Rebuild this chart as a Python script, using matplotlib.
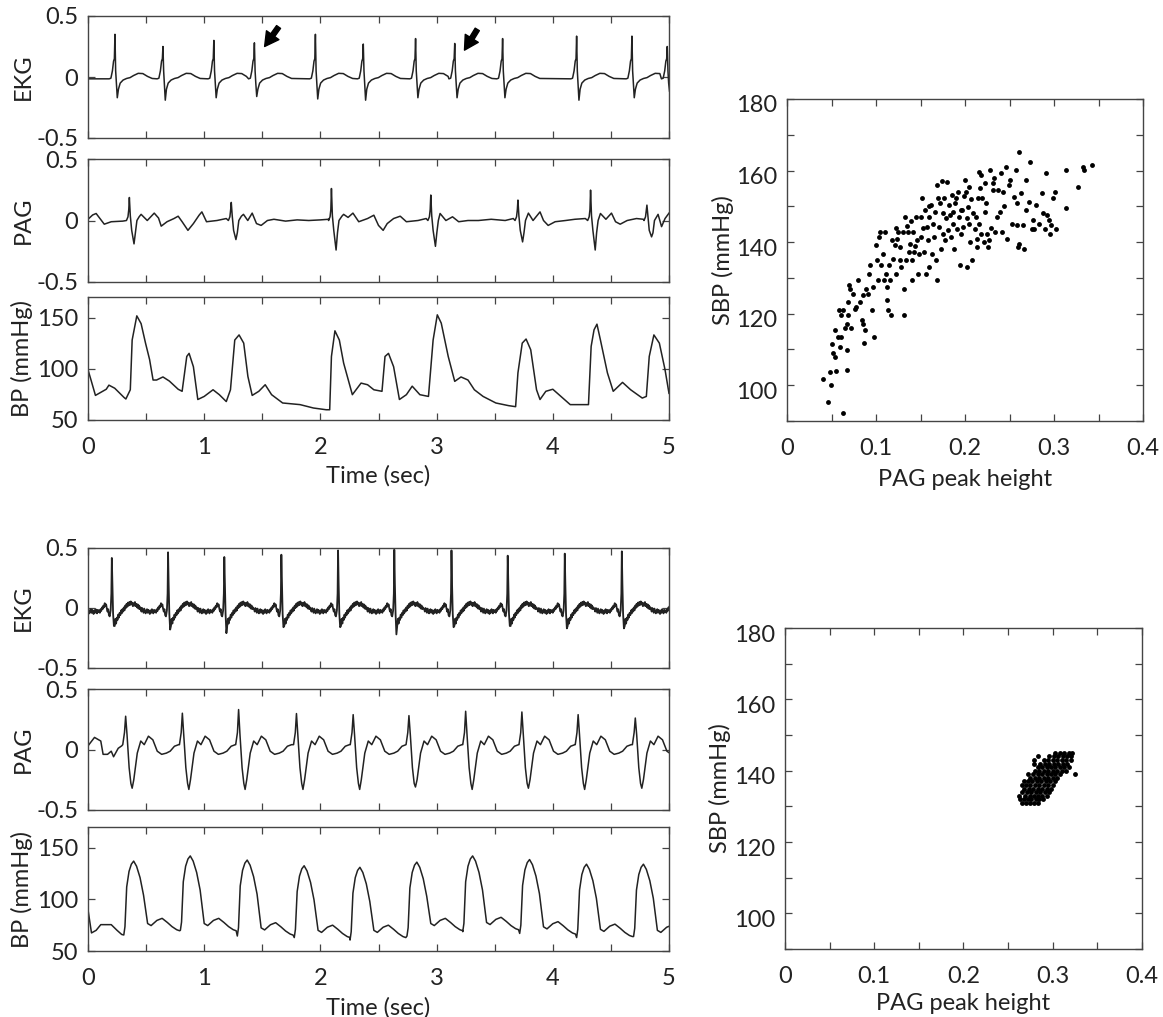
import numpy as np
import matplotlib
matplotlib.use("Agg")
import matplotlib.pyplot as plt
import matplotlib.transforms as mtransforms

plt.rcParams['font.family'] = ['Lato', 'DejaVu Sans']
FS = 17
INK = '#222222'

# ---------------- top recording (irregular rhythm) ----------------
# EKG: R-peak times (s), R heights, S depths
EKG1_T = [0.232, 0.645, 1.083, 1.432, 1.957, 2.369, 2.819, 3.156, 3.568, 4.205, 4.681, 4.985]
EKG1_R = [0.35, 0.25, 0.30, 0.28, 0.35, 0.27, 0.315, 0.275, 0.315, 0.335, 0.335, 0.25]
EKG1_S = [-0.17, -0.19, -0.17, -0.16, -0.18, -0.19, -0.17, -0.17, -0.17, -0.19, -0.17, -0.12]
# beat shape, offsets from the R peak
EKG1_OFF = [-0.05, -0.035, -0.022, -0.012, -0.005, 0.0, 0.006, 0.012, 0.02, 0.03, 0.045,
            0.07, 0.1, 0.13, 0.16, 0.2, 0.24, 0.28, 0.32]
EKG1_SHAPE = [-0.015, -0.01, 0.05, 0.13, 0.15, 'R', 0.05, -0.05, 'S', -0.1, -0.05,
              -0.025, -0.012, -0.005, 0.012, 0.03, 0.028, 0.005, -0.012]

# PAG: spike times, up and down deflections
PAG1_T = [0.356, 1.233, 2.095, 2.95, 3.70, 4.325, 4.81]
PAG1_UP = [0.187, 0.147, 0.26, 0.207, 0.166, 0.247, 0.125]
PAG1_DN = [-0.19, -0.155, -0.24, -0.21, -0.174, -0.24, -0.133]
PAG1_OFF = [-0.025, -0.012, -0.005, 0.0, 0.008, 0.02, 0.04, 0.052, 0.065]
PAG1_SHAPE = [0.0, 0.03, 0.09, 'R', 0.04, -0.08, 'S', -0.1, 0.0]
# small deflections between the spikes
PAG1_WT = [0.0, 0.04, 0.07, 0.1, 0.14, 0.2, 0.3, 0.44, 0.457, 0.51, 0.57, 0.607, 0.63, 0.68, 0.74,
           0.776, 0.81, 0.86, 0.907, 0.956, 0.98, 1.02, 1.11, 1.19, 1.32, 1.338, 1.375, 1.413, 1.45,
           1.49, 1.544, 1.6, 1.7, 1.8, 1.9, 2.0, 2.07, 2.185, 2.2, 2.238, 2.28, 2.33, 2.406, 2.46,
           2.5, 2.54, 2.575, 2.63, 2.687, 2.74, 2.84, 2.91, 3.03, 3.08, 3.137, 3.19, 3.27, 3.36,
           3.47, 3.59, 3.66, 3.79, 3.83, 3.89, 3.92, 3.96, 4.02, 4.11, 4.19, 4.28, 4.41, 4.457,
           4.505, 4.54, 4.58, 4.64, 4.72, 4.78, 4.906, 4.936, 4.966, 5.0]
PAG1_WV = [0.01, 0.045, 0.057, 0.02, -0.03, -0.01, -0.005, 0.03, 0.05, 0.0, 0.06, 0.02, -0.046, -0.01, 0.016,
           0.035, -0.01, -0.08, -0.025, 0.043, 0.07, -0.01, 0.0, 0.016, 0.035, 0.05, 0.0, 0.06, -0.025,
           -0.04, 0.0, 0.01, -0.005, 0.005, 0.0, 0.005, 0.01, 0.035, 0.05, 0.025, 0.06, -0.01, 0.016, 0.043,
           -0.04, -0.08, -0.025, 0.016, 0.035, -0.01, 0.0, 0.016, 0.057, 0.0, 0.03, -0.01, 0.0, 0.0,
           0.01, 0.0, 0.016, 0.06, 0.0, 0.07, 0.0, -0.04, -0.01, 0.0, 0.01, 0.016, 0.057, 0.01,
           0.06, -0.01, -0.03, 0.0, 0.016, 0.01, 0.05, -0.05, 0.016, 0.06]

# BP trace vertices
BP1_T = [0.0, 0.026, 0.064, 0.157, 0.18, 0.23, 0.31, 0.326, 0.364, 0.38, 0.42, 0.457, 0.495, 0.53, 0.56,
         0.59, 0.645, 0.70, 0.776, 0.81, 0.85, 0.87, 0.907, 0.945, 1.0, 1.076, 1.13, 1.19, 1.226, 1.263,
         1.30, 1.34, 1.376, 1.413, 1.47, 1.525, 1.58, 1.675, 1.825, 1.94, 2.05, 2.08, 2.095, 2.125, 2.163,
         2.2, 2.275, 2.35, 2.406, 2.46, 2.53, 2.556, 2.586, 2.63, 2.68, 2.74, 2.79, 2.856, 2.93, 2.97,
         3.006, 3.04, 3.1, 3.156, 3.21, 3.27, 3.325, 3.4, 3.51, 3.62, 3.68, 3.70, 3.737, 3.77, 3.81,
         3.86, 3.89, 3.94, 4.0, 4.07, 4.15, 4.26, 4.307, 4.33, 4.355, 4.38, 4.41, 4.47, 4.52, 4.6,
         4.67, 4.77, 4.805, 4.83, 4.87, 4.917, 4.966, 5.0]
BP1_V = [99, 89, 74, 80, 84, 81, 72, 70.5, 79.5, 128, 151.6, 144, 125, 109, 89,
         89, 92, 88, 80, 78, 112, 115, 102, 70, 73, 79.5, 74.7, 68, 79.5, 128,
         133, 125, 92.5, 74, 78, 84.4, 74.7, 66.6, 65, 61.7, 60, 60, 112, 137, 128,
         105.5, 74.7, 86, 84.4, 79.5, 78, 112, 115, 102, 70, 74.7, 83, 74.7, 73, 128,
         152.6, 144.5, 112, 87.7, 92, 89, 79.5, 73, 66.6, 64, 63, 96, 125, 129, 118.5,
         79.5, 70, 78, 80, 73, 65, 65, 65, 121.8, 138, 143.5, 128, 96, 78, 86.7,
         79.5, 71.4, 73, 112, 133, 125, 99, 76]

# SBP vs PAG peak height, top recording
TOP_PAG = [0.040, 0.046, 0.049, 0.048, 0.050, 0.052, 0.054, 0.055, 0.054, 0.057,
           0.061, 0.059, 0.058, 0.063, 0.061, 0.065, 0.063, 0.067, 0.067, 0.067,
           0.069, 0.070, 0.071, 0.069, 0.072, 0.074, 0.076, 0.078, 0.080, 0.082,
           0.084, 0.085, 0.085, 0.087, 0.088, 0.089, 0.091, 0.092, 0.093, 0.095,
           0.097, 0.098, 0.100, 0.101, 0.102, 0.103, 0.104, 0.106, 0.108, 0.109,
           0.110, 0.111, 0.112, 0.112, 0.113, 0.115, 0.116, 0.117, 0.119, 0.121,
           0.123, 0.124, 0.125, 0.127, 0.127, 0.128, 0.130, 0.131, 0.132, 0.133,
           0.134, 0.136, 0.137, 0.138, 0.140, 0.141, 0.142, 0.143, 0.145, 0.146,
           0.147, 0.148, 0.150, 0.151, 0.152, 0.154, 0.155, 0.156, 0.157, 0.158,
           0.160, 0.160, 0.162, 0.163, 0.165, 0.166, 0.167, 0.168, 0.169, 0.170,
           0.171, 0.172, 0.173, 0.175, 0.175, 0.176, 0.177, 0.179, 0.180, 0.181,
           0.182, 0.184, 0.185, 0.186, 0.187, 0.188, 0.190, 0.191, 0.192, 0.193,
           0.194, 0.196, 0.197, 0.198, 0.200, 0.201, 0.202, 0.202, 0.203, 0.205,
           0.206, 0.208, 0.209, 0.211, 0.213, 0.215, 0.216, 0.216, 0.218, 0.218,
           0.219, 0.221, 0.222, 0.223, 0.225, 0.226, 0.227, 0.228, 0.231, 0.232,
           0.234, 0.237, 0.239, 0.241, 0.242, 0.243, 0.246, 0.247, 0.249, 0.251,
           0.257, 0.258, 0.258, 0.260, 0.261, 0.261, 0.263, 0.265, 0.266, 0.269,
           0.272, 0.273, 0.275, 0.276, 0.278, 0.280, 0.286, 0.288, 0.290, 0.291,
           0.294, 0.295, 0.297, 0.299, 0.301, 0.302, 0.313, 0.314, 0.327, 0.333,
           0.334, 0.343, 0.118, 0.122, 0.135, 0.139, 0.144, 0.153, 0.159, 0.164,
           0.174, 0.183, 0.189, 0.195, 0.199, 0.204, 0.207, 0.212, 0.214, 0.217,
           0.224, 0.229, 0.233, 0.236, 0.244, 0.253, 0.255, 0.268, 0.283, 0.292]
TOP_SBP = [101.6, 95.3, 100, 103.7, 111.6, 109, 107.9, 104, 115.5, 113.5,
           113.5, 110.7, 121, 121, 119.6, 116, 92.2, 109.8, 104.2, 117.2,
           123.3, 128, 127, 119.6, 116, 125.6, 121.4, 122, 129.3, 123.3,
           118.2, 125.1, 117.2, 111.8, 115.5, 127, 125.6, 131.2, 133.5, 121,
           127.5, 113.5, 139.1, 135, 129.3, 141.5, 142.9, 133.5, 136.8, 129.3,
           142.9, 131.2, 127.5, 123.7, 121, 133.5, 129.3, 119.6, 135.4, 139.1,
           131.2, 141, 142.9, 135, 138.7, 133, 142.9, 127, 119.6, 147,
           135, 142.9, 137.3, 139.6, 135, 129.3, 142.9, 137.3, 147, 140.5,
           131.2, 136.8, 147, 141.5, 152.2, 137.3, 148.9, 131.2, 144.3, 140.5,
           147, 133, 150.3, 136.8, 141.5, 148.5, 135, 155.9, 129.3, 152.2,
           144.3, 150.8, 138.2, 148, 142.4, 152.2, 140.5, 146.6, 156.9, 143.3,
           150.3, 141.5, 153.1, 145.2, 148.5, 138.2, 152.2, 143.8, 154, 147,
           133.5, 142.4, 148.9, 144.3, 157.3, 154, 133, 146.6, 149.9, 145.2,
           140.1, 135, 148, 143.8, 138.7, 152.2, 145.2, 159.7, 142.4, 158.7,
           152.2, 140.1, 156.4, 148.5, 142.4, 138.7, 140.5, 160.1, 154.5, 156.4,
           142.9, 154.5, 148.5, 159.2, 142.9, 154, 161, 141, 155.9, 157.3,
           160.1, 150.8, 144.7, 138.7, 139.6, 165.3, 153.6, 144.7, 138.2, 157.3,
           151.3, 162.5, 143.8, 146.1, 143.8, 150.3, 153.6, 148, 143.8, 159.2,
           146.1, 142.4, 144.7, 152.2, 154, 143.8, 149.4, 160.1, 155.5, 161,
           160.1, 161.5, 140.5, 144, 144.5, 146, 139, 144, 150, 145,
           157, 147.5, 151, 149, 153, 155.5, 152, 147, 141, 155,
           151, 144, 158, 147, 150, 145, 152.5, 149, 145, 147.5]

# ---------------- bottom recording (regular rhythm) ----------------
EKG2_T = [0.205, 0.689, 1.173, 1.664, 2.152, 2.636, 3.128, 3.612, 4.103, 4.594, 5.08]
EKG2_R = [0.417, 0.464, 0.425, 0.444, 0.48, 0.486, 0.48, 0.436, 0.453, 0.472, 0.44]
EKG2_S = [-0.15, -0.18, -0.21, -0.16, -0.16, -0.22, -0.16, -0.15, -0.17, -0.17, -0.16]
EKG2_OFF = [-0.235, -0.229, -0.223, -0.217, -0.211, -0.205, -0.199, -0.193, -0.187, -0.181,
            -0.175, -0.169, -0.163, -0.157, -0.151, -0.145, -0.139, -0.133, -0.127, -0.121,
            -0.115, -0.109, -0.103, -0.097, -0.091, -0.085, -0.079, -0.073, -0.067, -0.061,
            -0.055, -0.049, -0.043, -0.037, -0.031, -0.025, -0.018, -0.01, -0.004, 0.0,
            0.005, 0.011, 0.018, 0.025, 0.031, 0.037, 0.043, 0.049, 0.055, 0.061,
            0.067, 0.073, 0.079, 0.085, 0.091, 0.097, 0.103, 0.109, 0.115, 0.121,
            0.127, 0.133, 0.139, 0.145, 0.151, 0.157, 0.163, 0.169, 0.175, 0.181,
            0.187, 0.193, 0.199, 0.205, 0.211, 0.217, 0.223, 0.229, 0.235, 0.241, 0.247]
EKG2_SHAPE = [-0.01, -0.03, 0.0, -0.02, -0.04, -0.005, -0.025, -0.045, -0.02, -0.01,
              -0.04, -0.015, -0.035, -0.05, -0.02, -0.04, -0.01, -0.03, -0.045, -0.015,
              -0.035, -0.02, -0.04, -0.01, -0.025, 0.005, -0.01, 0.02, 0.005, 0.04,
              0.015, 0.03, -0.005, -0.03, -0.01, -0.06, -0.07, -0.02, 0.12, 'R',
              0.2, -0.05, 'S', -0.15, -0.09, -0.13, -0.08, -0.1, -0.055, -0.08,
              -0.04, -0.06, -0.02, -0.045, -0.01, -0.03, 0.005, -0.02, 0.02, 0.0,
              0.035, 0.01, 0.045, 0.02, 0.05, 0.025, 0.055, 0.03, 0.045, 0.015,
              0.04, 0.02, 0.05, 0.015, 0.035, 0.005, 0.03, -0.005, 0.02, -0.01, 0.005]

PAG2_T = [0.324, 0.812, 1.296, 1.794, 2.282, 2.762, 3.25, 3.734, 4.218, 4.71]
PAG2_UP = [0.275, 0.30, 0.33, 0.297, 0.288, 0.28, 0.316, 0.31, 0.288, 0.26]
PAG2_DN = [-0.32, -0.33, -0.33, -0.33, -0.33, -0.31, -0.33, -0.32, -0.33, -0.32]
PAG2_OFF = [-0.025, -0.01, 0.0, 0.012, 0.03, 0.045, 0.056, 0.07, 0.1, 0.13, 0.16, 0.196,
            0.234, 0.272, 0.31, 0.35, 0.383, 0.42, 0.456]
PAG2_SHAPE = [0.04, 0.14, 'R', 0.12, -0.15, -0.28, 'S', -0.25, -0.03, 0.07, 0.04, 0.11,
              0.08, -0.014, -0.04, -0.03, -0.014, 0.027, 0.04]
PAG2_START_T = [0.0, 0.056, 0.11, 0.13, 0.168, 0.2, 0.22, 0.26, 0.29]
PAG2_START_V = [0.03, 0.10, 0.07, -0.04, -0.04, -0.014, -0.06, 0.01, 0.03]

BP2_PEAK_T = [0.393, 0.88, 1.37, 1.86, 2.34, 2.83, 3.31, 3.80, 4.29, 4.78]
BP2_SYS = [137, 142, 138, 132.5, 131, 136, 142, 138.5, 134, 134]
BP2_NOTCH = [81.6, 81.6, 77.4, 75, 75, 81.6, 82.6, 78.4, 76, 75]
BP2_DIA = [65.5, 70, 64.5, 63, 60.6, 64.5, 68.7, 67, 63, 64]
BP2_OFF = [-0.085, -0.075, -0.06, -0.04, -0.02, 0.0, 0.025, 0.055, 0.085, 0.12, 0.15,
           0.2, 0.245, 0.29, 0.33, 0.37, 0.395]
BP2_START_T = [0.0, 0.03, 0.07, 0.11, 0.2, 0.25, 0.29]
BP2_START_V = [90, 67.5, 70, 75.5, 75.5, 70, 66]

BOT_ROWS = [
    (131, [0.266, 0.270, 0.274, 0.279, 0.283]),
    (132, [0.263, 0.268, 0.272, 0.276, 0.281, 0.285, 0.289]),
    (133, [0.262, 0.269, 0.274, 0.279, 0.284, 0.288, 0.293]),
    (134, [0.266, 0.271, 0.276, 0.281, 0.286, 0.291, 0.296]),
    (135, [0.268, 0.273, 0.278, 0.283, 0.288, 0.293, 0.298]),
    (136, [0.265, 0.270, 0.275, 0.280, 0.285, 0.290, 0.295, 0.300]),
    (137, [0.268, 0.272, 0.277, 0.282, 0.287, 0.292, 0.297, 0.302]),
    (138, [0.275, 0.280, 0.285, 0.290, 0.295, 0.300, 0.305]),
    (139, [0.272, 0.278, 0.283, 0.288, 0.293, 0.298, 0.303, 0.308, 0.325]),
    (140, [0.280, 0.285, 0.290, 0.295, 0.300, 0.305, 0.310, 0.315]),
    (141, [0.283, 0.288, 0.293, 0.298, 0.303, 0.308, 0.313, 0.318]),
    (142, [0.279, 0.286, 0.291, 0.296, 0.301, 0.306, 0.311, 0.316]),
    (143, [0.279, 0.290, 0.295, 0.300, 0.305, 0.310, 0.315, 0.320]),
    (144, [0.284, 0.296, 0.301, 0.306, 0.311, 0.316, 0.321]),
    (145, [0.303, 0.308, 0.313, 0.318, 0.322]),
]
BOT_PAG = [x for y, xs in BOT_ROWS for x in xs]
BOT_SBP = [y for y, xs in BOT_ROWS for x in xs]

ARROWS = [((1.52, 0.25), (1.64, 0.41)), ((3.24, 0.22), (3.35, 0.39))]


def beat_trace(times, ups, downs, offs, shape):
    ts, vs = [], []
    for i, t0 in enumerate(times):
        nxt = times[i + 1] + offs[0] if i + 1 < len(times) else np.inf
        for o, v in zip(offs, shape):
            if t0 + o >= nxt:
                break
            ts.append(t0 + o)
            vs.append(ups[i] if v == 'R' else downs[i] if v == 'S' else v)
    return ts, vs


def bp2_shape(p, b, d):
    return [d, d + 8, p - 25, p - 10, p - 3, p, p - 5, p - 16, p - 33,
            b - 5, b - 7, b - 2, b, b - 4, b - 8, b - 11, b - 12]


W, H = 1163, 1017
fig = plt.figure(figsize=(W / 100, H / 100), dpi=100)


def add_ax(left, top, right, bottom):
    return fig.add_axes([left / W, 1 - bottom / H, (right - left) / W, (bottom - top) / H])


def style(ax):
    ax.tick_params(direction='in', top=True, right=True, length=5, width=0.9,
                   color='#444444', labelcolor=INK, labelsize=FS)
    ax.tick_params(axis='y', pad=7)
    ax.tick_params(axis='x', pad=12)
    for s in ax.spines.values():
        s.set_color('#444444')
        s.set_linewidth(1.0)


def trace_axes(top, bottom, kind, last):
    ax = add_ax(88, top, 669, bottom)
    style(ax)
    ax.set_xlim(0, 5)
    ax.set_xticks(np.arange(0, 5.01, 0.5))
    if last:
        ax.set_xticklabels(['0', '', '1', '', '2', '', '3', '', '4', '', '5'])
        ax.set_xlabel('Time (sec)', fontsize=FS, color=INK)
        ax.xaxis.set_label_coords(0.5, -0.37)
    else:
        ax.set_xticklabels([])
    if kind == 'BP':
        ax.set_ylim(50, 170)
        ax.set_yticks([50, 100, 150])
        ax.set_yticklabels(['50', '100', '150'])
        ax.set_ylabel('BP (mmHg)', fontsize=FS, color=INK)
    else:
        ax.set_ylim(-0.5, 0.5)
        ax.set_yticks([-0.5, 0, 0.5])
        ax.set_yticklabels(['-0.5', '0', '0.5'])
        ax.set_ylabel(kind, fontsize=FS, color=INK)
    ax.yaxis.set_label_coords(-0.094, 0.5)
    return ax


def scatter_axes(top, bottom, left, right, xs, ys, xlab_y):
    ax = add_ax(left, top, right, bottom)
    style(ax)
    ax.plot(xs, ys, 'o', ms=3.5, color='black', mec='none')
    ax.set_xlim(0, 0.4)
    ax.set_ylim(90, 180)
    ax.set_xticks(np.arange(0, 0.401, 0.05))
    ax.set_xticklabels(['0', '', '0.1', '', '0.2', '', '0.3', '', '0.4'])
    ax.set_yticks(np.arange(90, 181, 10))
    ax.set_yticklabels(['', '100', '', '120', '', '140', '', '160', '', '180'])
    shift = mtransforms.ScaledTranslation(0, -5 / 100, fig.dpi_scale_trans)
    for lab in ax.get_yticklabels():
        lab.set_transform(lab.get_transform() + shift)
    ax.set_xlabel('PAG peak height', fontsize=FS, color=INK)
    ax.xaxis.set_label_coords(0.5, xlab_y)
    ax.set_ylabel('SBP (mmHg)', fontsize=FS, color=INK)
    ax.yaxis.set_label_coords(-0.15, 0.5)
    return ax


LW = 1.1

# top block
ax = trace_axes(16, 138, 'EKG', False)
t, v = beat_trace(EKG1_T, EKG1_R, EKG1_S, EKG1_OFF, EKG1_SHAPE)
ax.plot([0.0] + t, [-0.015] + v, color=INK, lw=LW)
for tip, tail in ARROWS:
    ax.annotate('', xy=tip, xytext=tail,
                arrowprops=dict(facecolor='black', edgecolor='black', width=3.5,
                                headwidth=11, headlength=10, shrink=0))

ax = trace_axes(159, 282, 'PAG', False)
t, v = beat_trace(PAG1_T, PAG1_UP, PAG1_DN, PAG1_OFF, PAG1_SHAPE)
pts = sorted(zip(t + PAG1_WT, v + PAG1_WV))
ax.plot([p[0] for p in pts], [p[1] for p in pts], color=INK, lw=LW)

ax = trace_axes(297, 420, 'BP', True)
ax.plot(BP1_T, BP1_V, color=INK, lw=LW)

scatter_axes(99, 421, 787, 1143, TOP_PAG, TOP_SBP, -0.148)

# bottom block
ax = trace_axes(548, 668, 'EKG', False)
t, v = beat_trace(EKG2_T, EKG2_R, EKG2_S, EKG2_OFF, EKG2_SHAPE)
ax.plot(t, v, color=INK, lw=1.3)

ax = trace_axes(689, 810, 'PAG', False)
t, v = beat_trace(PAG2_T, PAG2_UP, PAG2_DN, PAG2_OFF, PAG2_SHAPE)
ax.plot(PAG2_START_T + t, PAG2_START_V + v, color=INK, lw=LW)

ax = trace_axes(827, 951, 'BP', True)
bt, bv = list(BP2_START_T), list(BP2_START_V)
for i, t0 in enumerate(BP2_PEAK_T):
    for o, val in zip(BP2_OFF, bp2_shape(BP2_SYS[i], BP2_NOTCH[i], BP2_DIA[i])):
        bt.append(t0 + o)
        bv.append(val)
ax.plot(bt, bv, color=INK, lw=LW)

scatter_axes(628, 949, 785, 1142, BOT_PAG, BOT_SBP, -0.138)

fig.savefig('out.png', dpi=100, facecolor='white')
